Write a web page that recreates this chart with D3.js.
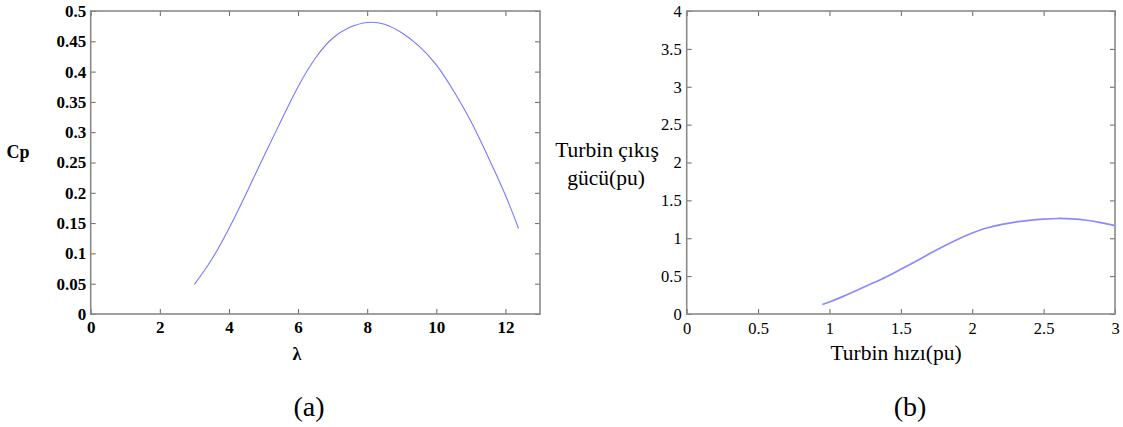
<!DOCTYPE html>
<html>
<head>
<meta charset="utf-8">
<script src="https://cdn.jsdelivr.net/npm/d3@7"></script>
<style>
  html, body { margin: 0; padding: 0; background: #fff; }
  svg { display: block; }
  svg, svg text { font-family: "Liberation Serif", "Times New Roman", "DejaVu Serif", serif; }
</style>
</head>
<body>
<svg id="chart" width="1123" height="427"></svg>
<script>
const SERIF = '"Liberation Serif", "Times New Roman", "DejaVu Serif", serif';

// Panel (a): power coefficient vs tip-speed ratio
const lambdaValues = [3.0, 3.5, 4.0, 4.5, 5.0, 5.5, 6.0, 6.5, 7.0, 7.5, 8.0, 8.5, 9.0, 9.5, 10.0, 10.5, 11.0, 11.5, 12.0, 12.38];
const cpValues     = [0.049, 0.090, 0.141, 0.199, 0.259, 0.318, 0.375, 0.422, 0.455, 0.473, 0.481, 0.478, 0.464, 0.442, 0.411, 0.368, 0.318, 0.259, 0.196, 0.141];
const lambdaTicks  = [0, 2, 4, 6, 8, 10, 12];
const cpTicks      = [0, 0.05, 0.1, 0.15, 0.2, 0.25, 0.3, 0.35, 0.4, 0.45, 0.5];

// Panel (b): turbine output power vs turbine speed
const speedValues  = [0.95, 1.0, 1.1, 1.2, 1.3, 1.4, 1.5, 1.6, 1.7, 1.8, 1.9, 2.0, 2.1, 2.2, 2.3, 2.4, 2.5, 2.6, 2.7, 2.8, 2.9, 3.0];
const powerValues  = [0.125, 0.158, 0.236, 0.320, 0.405, 0.493, 0.590, 0.690, 0.795, 0.895, 0.988, 1.070, 1.135, 1.180, 1.213, 1.237, 1.253, 1.261, 1.256, 1.238, 1.207, 1.166];
const speedTicks   = [0, 0.5, 1, 1.5, 2, 2.5, 3];
const powerTicks   = [0, 0.5, 1, 1.5, 2, 2.5, 3, 3.5, 4];

const svg = d3.select("#chart");
const frameColor = "#8a8a8a";

function panel(opts) {
  const x = d3.scaleLinear().domain(opts.xDomain).range([opts.left, opts.right]);
  const y = d3.scaleLinear().domain(opts.yDomain).range([opts.bottom, opts.top]);
  const g = svg.append("g");

  const weight = opts.bold ? "bold" : "normal";
  const fs = opts.tickFont;

  // bottom and left axes with inward ticks
  const gx = g.append("g").attr("transform", `translate(0,${opts.bottom})`)
    .call(d3.axisBottom(x).tickValues(opts.xTicks).tickSize(-5).tickPadding(opts.xPad).tickFormat(d3.format("")));
  const gy = g.append("g").attr("transform", `translate(${opts.left},0)`)
    .call(d3.axisLeft(y).tickValues(opts.yTicks).tickSize(-5).tickPadding(opts.yPad).tickFormat(d3.format("")));
  // mirrored ticks on top and right
  const gt = g.append("g").attr("transform", `translate(0,${opts.top})`)
    .call(d3.axisTop(x).tickValues(opts.xTicks).tickSize(-5).tickFormat(""));
  const gr = g.append("g").attr("transform", `translate(${opts.right},0)`)
    .call(d3.axisRight(y).tickValues(opts.yTicks).tickSize(-5).tickFormat(""));

  [gx, gy, gt, gr].forEach(a => {
    a.attr("font-family", SERIF).attr("font-size", fs).attr("font-weight", weight);
    a.select(".domain").remove();
    a.selectAll(".tick line").attr("stroke", "#666").attr("stroke-width", 1);
    a.selectAll(".tick text")
      .attr("font-family", SERIF)
      .attr("font-size", fs)
      .attr("font-weight", weight)
      .attr("fill", "#000");
  });

  // frame
  g.append("rect")
    .attr("x", opts.left).attr("y", opts.top)
    .attr("width", opts.right - opts.left).attr("height", opts.bottom - opts.top)
    .attr("fill", "none").attr("stroke", frameColor).attr("stroke-width", 1.6);

  // data curve
  const pts = opts.xs.map((v, i) => [v, opts.ys[i]]);
  g.append("path")
    .datum(pts)
    .attr("fill", "none")
    .attr("stroke", opts.lineColor)
    .attr("stroke-width", opts.lineWidth)
    .attr("d", d3.line().x(d => x(d[0])).y(d => y(d[1])).curve(d3.curveNatural));
  return g;
}

panel({
  xDomain: [0, 13], yDomain: [0, 0.5],
  left: 90.7, right: 540, top: 11, bottom: 314,
  xTicks: lambdaTicks, yTicks: cpTicks,
  xs: lambdaValues, ys: cpValues,
  bold: true, tickFont: 17, xPad: 7, yPad: 4.5,
  lineColor: "#7878ff", lineWidth: 1.1
});

panel({
  xDomain: [0, 3], yDomain: [0, 4],
  left: 686.7, right: 1115, top: 11, bottom: 314,
  xTicks: speedTicks, yTicks: powerTicks,
  xs: speedValues, ys: powerValues,
  bold: false, tickFont: 16.5, xPad: 8, yPad: 5,
  lineColor: "#8a8aff", lineWidth: 1.7
});

function label(x, y, size, bold, txt) {
  svg.append("text").attr("x", x).attr("y", y).attr("text-anchor", "middle")
    .attr("font-family", SERIF).attr("font-size", size)
    .attr("font-weight", bold ? "bold" : "normal").attr("fill", "#000").text(txt);
}

// axis titles
label(18, 158, 18, true, "Cp");
label(297, 360, 18, true, "λ");
label(607, 157, 21.5, false, "Turbin çıkış");
label(606, 185, 21.5, false, "gücü(pu)");
label(896, 360, 21.5, false, "Turbin hızı(pu)");

// panel captions
label(309, 416, 28, false, "(a)");
label(910, 416, 28, false, "(b)");
</script>
</body>
</html>
